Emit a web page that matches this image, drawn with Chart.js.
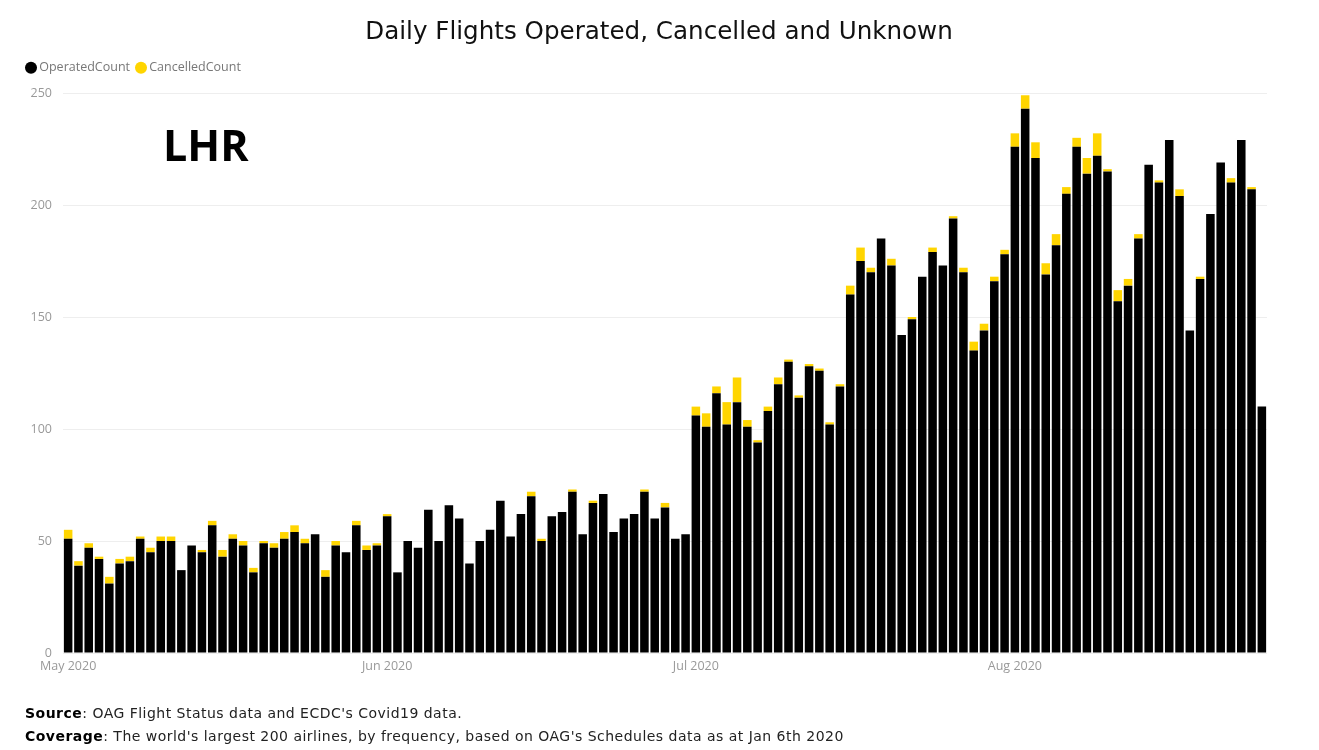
<!DOCTYPE html>
<html><head><meta charset="utf-8">
<script src="https://cdn.jsdelivr.net/npm/chart.js@4"></script>
<style>
html,body{margin:0;padding:0;background:#fff;overflow:hidden}
#wrap{position:relative;width:1319px;height:750px}
canvas{position:absolute;left:0;top:0}
.t{position:absolute;white-space:nowrap;color:#111}
#lhr{left:163px;top:117px;font:700 43px/56px "Open Sans",sans-serif;color:#000}
.foot{left:25px;font:14px/20px "DejaVu Sans",sans-serif;letter-spacing:.48px;color:#222}
.foot b{color:#000}
</style></head><body>
<div id="wrap"><canvas id="c" width="1319" height="750"></canvas>
<div class="t" id="lhr">LHR</div>
<div class="t foot" style="top:703px"><b>Source</b>: OAG Flight Status data and ECDC's Covid19 data.</div>
<div class="t foot" style="top:726px"><b>Coverage</b>: The world's largest 200 airlines, by frequency, based on OAG's Schedules data as at Jan 6th 2020</div>
</div>
<script>
const monthNames = ['May 2020','Jun 2020','Jul 2020','Aug 2020'];
const monthStarts = [0,31,61,92];
const operatedCount = [
51,39,47,42,31,40,41,51,45,50,50,37,48,45,57,43,51,48,36,49,47,51,54,49,53,34,48,45,57,46,48,
61,36,50,47,64,50,66,60,40,50,55,68,52,62,70,50,61,63,72,53,67,71,54,60,62,72,60,65,51,53,
106,101,116,102,112,101,94,108,120,130,114,128,126,102,119,160,175,170,185,173,142,149,168,179,173,194,170,135,144,166,178,
226,243,221,169,182,205,226,214,222,215,157,164,185,218,210,229,204,144,167,196,219,210,229,207,110];
const cancelledCount = [
4,2,2,1,3,2,2,1,2,2,2,0,0,1,2,3,2,2,2,1,2,3,3,2,0,3,2,0,2,2,1,
1,0,0,0,0,0,0,0,0,0,0,0,0,0,2,1,0,0,1,0,1,0,0,0,0,1,0,2,0,0,
4,6,3,10,11,3,1,2,3,1,1,1,1,1,1,4,6,2,0,3,0,1,0,2,0,1,2,4,3,2,2,
6,6,7,5,5,3,4,7,10,1,5,3,2,0,1,0,3,0,1,0,0,2,0,1,0];
const categories = operatedCount.map((_, i) => 'Day ' + (i + 1));
const yTicks = [0,50,100,150,200,250];

const layoutTweaks = { id:'layoutTweaks',
  beforeLayout(chart){
    const l = chart.legend;
    if (l && !l._gap) { const f = l.fit; l.fit = function(){ f.call(this); this.height += 9; }; l._gap = true; }
  },
  afterLayout(chart){
    const t = chart.titleBlock;
    if (t) { t.left += 15.5; t.right += 15.5; }
  }
};

new Chart(document.getElementById('c'), {
  type: 'bar',
  plugins:[layoutTweaks],
  data: { labels: categories, datasets: [
    { label:'OperatedCount', data: operatedCount, backgroundColor:'#000000', hoverBackgroundColor:'#000000', borderWidth:0 },
    { label:'CancelledCount', data: cancelledCount, backgroundColor:'#FFD500', borderWidth:0 }
  ]},
  options: {
    responsive:false, animation:false, devicePixelRatio:1,
    layout:{ padding:{ left:20, right:52, top:0, bottom:0 } },
    datasets:{ bar:{ categoryPercentage:1, barPercentage:0.83 } },
    plugins:{
      title:{ display:true, text:'Daily Flights Operated, Cancelled and Unknown', color:'#111',
        font:{ family:'"DejaVu Sans"', size:24.6, weight:'normal' }, padding:{ top:18, bottom:5 } },
      legend:{ display:true, position:'top', align:'start',
        labels:{ usePointStyle:true, pointStyle:'circle', boxWidth:4, boxHeight:8.5, padding:9,
          color:'#777', font:{ family:'"Open Sans"', size:12.5 } } },
      tooltip:{ enabled:false }
    },
    scales:{
      x:{ stacked:true, grid:{ display:false }, border:{ display:false },
        afterFit(s){ s.height = 97; },
        ticks:{ autoSkip:false, maxRotation:0, minRotation:0, color:'#999', padding:-2,
          font:{ family:'"Open Sans"', size:12.5 },
          callback(v, i){ const m = monthStarts.indexOf(i); return m >= 0 ? monthNames[m] : ''; } } },
      y:{ stacked:true, min:0, max:250, border:{ display:false },
        afterBuildTicks(s){ s.ticks = yTicks.map(v => ({ value:v })); },
        afterFit(s){ s.width = 43; },
        grid:{ color:'#eeeeee', lineWidth:1, drawTicks:false },
        ticks:{ color:'#999', padding:11, font:{ family:'"Open Sans"', size:12.5 } } }
    }
  }
});
</script></body></html>
